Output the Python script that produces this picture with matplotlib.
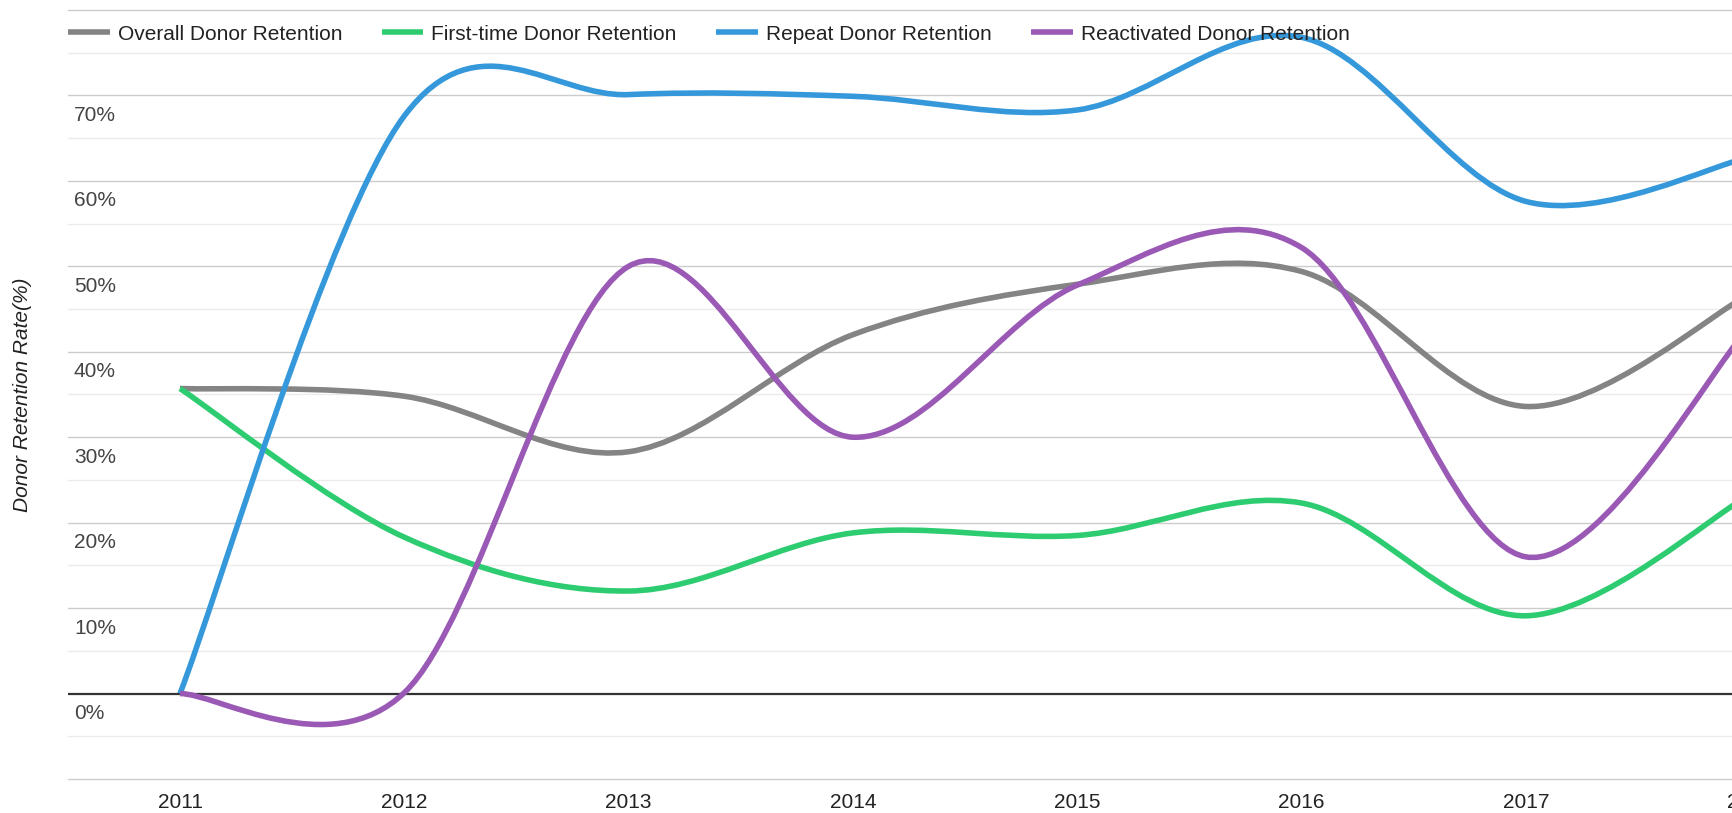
import numpy as np
import matplotlib.pyplot as plt
from matplotlib.path import Path
from matplotlib.patches import PathPatch
from matplotlib.lines import Line2D
from matplotlib.transforms import ScaledTranslation

plt.rcParams['font.family'] = ['Liberation Sans', 'DejaVu Sans']

years = [2011, 2012, 2013, 2014, 2015, 2016, 2017, 2018]
overall = [35.7, 34.8, 28.3, 42.0, 47.9, 49.4, 33.6, 46.8]
first_time = [35.7, 18.3, 12.0, 18.8, 18.5, 22.3, 9.1, 23.3]
repeat = [0.0, 67.6, 70.1, 69.9, 68.3, 76.8, 57.6, 62.8]
reactivated = [0.0, 0.1, 50.0, 30.0, 47.8, 52.2, 16.0, 43.0]

series_names = ['Overall Donor Retention', 'First-time Donor Retention',
                'Repeat Donor Retention', 'Reactivated Donor Retention']
colors = ['#848484', '#2ecc71', '#3498db', '#9b59b6']

ytick_vals = [0, 10, 20, 30, 40, 50, 60, 70]
ytick_labels = ['0%', '10%', '20%', '30%', '40%', '50%', '60%', '70%']


def smooth_path(xs, ys):
    # cubic bezier through every point (catmull-rom style, like curveType 'function')
    n = len(xs)
    verts = [(xs[0], ys[0])]
    codes = [Path.MOVETO]
    for i in range(n - 1):
        a = max(i - 1, 0)
        b = min(i + 2, n - 1)
        c1 = (xs[i] + (xs[i + 1] - xs[a]) / 6, ys[i] + (ys[i + 1] - ys[a]) / 6)
        c2 = (xs[i + 1] - (xs[b] - xs[i]) / 6, ys[i + 1] - (ys[b] - ys[i]) / 6)
        verts += [c1, c2, (xs[i + 1], ys[i + 1])]
        codes += [Path.CURVE4] * 3
    return Path(verts, codes)


W, H = 1733, 813
fig = plt.figure(figsize=(W / 100, H / 100), dpi=100)
left, right, top, bottom = 68, 1800, 10, 779
ax = fig.add_axes([left / W, (H - bottom) / H, (right - left) / W, (bottom - top) / H])

ppy = 224.3
ax.set_xlim(2011 - (180 - left) / ppy, 2011 + (right - 180) / ppy)
ax.set_ylim(-10, 80)

for s in ax.spines.values():
    s.set_visible(False)

# gridlines
for v in np.arange(-10, 81, 5):
    if v == 0:
        continue
    major = v % 10 == 0
    ax.axhline(v, color='#cccccc' if major else '#ebebeb', lw=1.0, zorder=0.5, clip_on=False)
ax.axhline(0, color='#333333', lw=1.6, zorder=1)

for data, c in zip([overall, first_time, repeat, reactivated], colors):
    ax.add_patch(PathPatch(smooth_path(years, data), fill=False, edgecolor=c,
                           lw=4, capstyle='butt', joinstyle='round', zorder=2))

ax.set_xticks(years)
ax.set_xticklabels([str(y) for y in years])
ax.tick_params(axis='x', length=0, pad=10, labelsize=15, labelcolor='#222222')

ax.set_yticks(ytick_vals)
ax.set_yticklabels(ytick_labels)
ax.tick_params(axis='y', length=0, pad=0, labelsize=15, labelcolor='#444444')
off = ScaledTranslation(6 / 100, -10.5 / 100, fig.dpi_scale_trans)
for lab in ax.get_yticklabels():
    lab.set_ha('left')
    lab.set_va('top')
    lab.set_transform(lab.get_transform() + off)

ax.set_ylabel('Donor Retention Rate(%)', fontsize=15, style='italic', color='#222222')
ax.yaxis.set_label_coords((32 - left) / (right - left), 0.5)

handles = [Line2D([], [], color=c, lw=4, solid_capstyle='butt') for c in colors]
fig.legend(handles, series_names, loc='center left',
           bbox_to_anchor=(left / W, 1 - 34 / H), ncol=4, frameon=False,
           fontsize=15, labelcolor='#222222', handlelength=2.0,
           handletextpad=0.38, columnspacing=1.9, borderpad=0, borderaxespad=0)

fig.savefig('out.png', dpi=100)
